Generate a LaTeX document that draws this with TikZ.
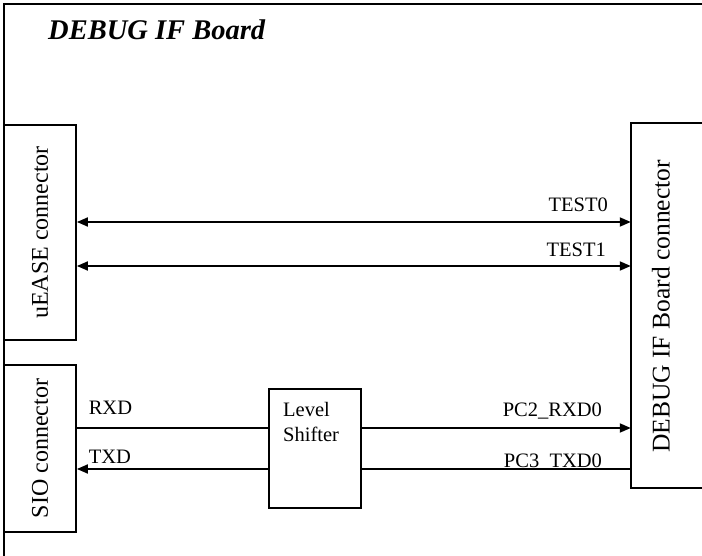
\documentclass[tikz,border=0pt]{standalone}
\usepackage{fontspec}
\setmainfont{Liberation Serif}
\usepackage{tikz}
\usetikzlibrary{arrows.meta}

\begin{document}
\begin{tikzpicture}[x=1pt, y=-1pt,
    >={Triangle[length=11pt,width=9pt]},
    caja/.style={draw, line width=1.8pt, inner sep=0pt},
    senal/.style={line width=1.8pt},
    etiq/.style={font=\fontsize{20.5}{24.6}\selectfont, inner sep=0pt},
    vert/.style={font=\fontsize{24}{28}\selectfont}]
            % Marco de la placa
            \useasboundingbox (0,0) rectangle (702,556);
            \draw[line width=1.8pt] (4,556) -- (4,4) -- (702,4);
            \node[anchor=base west, inner sep=0pt, font=\fontsize{28.5}{34}\selectfont\bfseries\itshape] (titulo) at (48,40) {DEBUG IF Board};

            % Conectores
            \node[caja, vert, minimum width=72pt, minimum height=215pt] (uease) at (40,232.5) {\rotatebox{90}{uEASE connector}};
            \node[caja, vert, minimum width=72pt, minimum height=167pt] (sio) at (40,448.5) {\rotatebox{90}{SIO connector}};
            \draw[line width=1.8pt] (702,123) -| (631,488) -- (702,488);
            \node[minimum width=71pt, minimum height=365pt, inner sep=0pt] (dbgconn) at (666.5,305.5) {};
            \node[vert, font=\fontsize{25.5}{30}\selectfont, rotate=90] (dbgtxt) at (661,306.5) {DEBUG IF Board connector};

            % Level Shifter
            \node[caja, minimum width=92pt, minimum height=119pt] (shifter) at (315,448.5) {};
            \node[etiq, anchor=north west, align=left] (shiftxt) at (283,402) {Level\\Shifter};

            % TEST0 / TEST1
            \draw[senal, <->] ([yshift=10.5pt]uease.east) -- ([yshift=10.5pt]uease.east -| dbgconn.west)
                node[etiq, anchor=base east, xshift=-22pt, yshift=10pt] (test0) {TEST0};
            \draw[senal, <->] ([yshift=-33.5pt]uease.east) -- ([yshift=-33.5pt]uease.east -| dbgconn.west)
                node[etiq, anchor=base east, xshift=-24pt, yshift=9pt] (test1) {TEST1};

            % RXD
            \draw[senal] ([yshift=20.5pt]sio.east)
                node[etiq, anchor=base west, xshift=11pt, yshift=14pt] (rxd) {RXD}
                -- ([yshift=20.5pt]sio.east -| shifter.west);
            \draw[senal, ->] ([yshift=20.5pt]shifter.east) -- ([yshift=20.5pt]shifter.east -| dbgconn.west)
                node[etiq, anchor=base east, xshift=-28pt, yshift=12pt] (pc2) {PC2\_RXD0};

            % TXD
            \draw[senal] ([yshift=-20.5pt]dbgconn.west |- shifter.east) -- ([yshift=-20.5pt]shifter.east)
                node[etiq, anchor=base east, pos=0, xshift=-28pt, yshift=2pt] (pc3) {PC3\_TXD0};
            \draw[senal, ->] ([yshift=-20.5pt]shifter.west) -- ([yshift=-20.5pt]shifter.west -| sio.east)
                node[etiq, anchor=base west, xshift=11pt, yshift=6pt] (txd) {TXD};
\end{tikzpicture}
\end{document}
